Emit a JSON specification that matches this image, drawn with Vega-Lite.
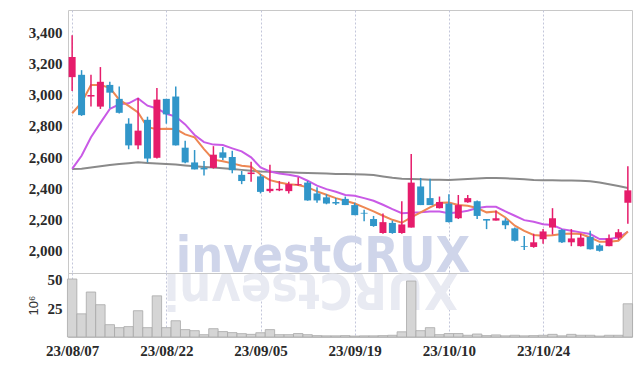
{
  "$schema": "https://vega.github.io/schema/vega-lite/v6.json",
  "padding": {"left": 26, "top": 9, "right": 5, "bottom": 5},
  "spacing": 0,
  "bounds": "flush",
  "config": {
    "view": {"stroke": "#c8c8c8"},
    "font": "Liberation Sans Narrow",
    "axis": {"labelFont": "Liberation Sans Narrow", "labelFontSize": 15, "labelFontWeight": "bold", "labelColor": "#2a2a2a", "gridColor": "#c3c6da", "gridDash": [2, 2], "gridWidth": 1, "ticks": false, "domain": false, "labelPadding": 6}
  },
  "datasets": {
    "k": [
      {"d":"23/08/07","o":3115,"h":3385,"l":3025,"c":3245,"v":50.3,"m5":2882,"m20":2524,"m60":2522},
      {"d":"23/08/08","o":3130,"h":3160,"l":2865,"c":2870,"v":20.1,"m5":2950,"m20":2608,"m60":2525},
      {"d":"23/08/09","o":2990,"h":3130,"l":2925,"c":3000,"v":39,"m5":3064,"m20":2727,"m60":2532},
      {"d":"23/08/10","o":2925,"h":3180,"l":2910,"c":3085,"v":28,"m5":3064,"m20":2820,"m60":2540},
      {"d":"23/08/11","o":3065,"h":3085,"l":2915,"c":3015,"v":10.7,"m5":3046,"m20":2910,"m60":2548},
      {"d":"23/08/14","o":2975,"h":3055,"l":2880,"c":2885,"v":8.1,"m5":2970,"m20":2940,"m60":2555},
      {"d":"23/08/16","o":2815,"h":2850,"l":2650,"c":2675,"v":9,"m5":2930,"m20":2946,"m60":2560},
      {"d":"23/08/17","o":2675,"h":2980,"l":2650,"c":2770,"v":22.8,"m5":2887,"m20":2978,"m60":2566},
      {"d":"23/08/18","o":2840,"h":2860,"l":2565,"c":2590,"v":8.1,"m5":2791,"m20":2931,"m60":2562},
      {"d":"23/08/21","o":2595,"h":3045,"l":2590,"c":2970,"v":35.7,"m5":2781,"m20":2913,"m60":2558},
      {"d":"23/08/22","o":2975,"h":2975,"l":2815,"c":2875,"v":8.1,"m5":2782,"m20":2879,"m60":2555},
      {"d":"23/08/23","o":2990,"h":3055,"l":2675,"c":2675,"v":14.1,"m5":2780,"m20":2861,"m60":2552},
      {"d":"23/08/24","o":2660,"h":2705,"l":2560,"c":2565,"v":6.4,"m5":2746,"m20":2810,"m60":2546},
      {"d":"23/08/25","o":2565,"h":2645,"l":2520,"c":2520,"v":5.5,"m5":2727,"m20":2742,"m60":2540},
      {"d":"23/08/28","o":2530,"h":2575,"l":2480,"c":2520,"v":2,"m5":2651,"m20":2696,"m60":2536},
      {"d":"23/08/29","o":2530,"h":2670,"l":2525,"c":2615,"v":7.2,"m5":2583,"m20":2680,"m60":2533},
      {"d":"23/08/30","o":2630,"h":2665,"l":2580,"c":2595,"v":4.7,"m5":2572,"m20":2677,"m60":2527},
      {"d":"23/08/31","o":2600,"h":2640,"l":2495,"c":2515,"v":3.8,"m5":2559,"m20":2656,"m60":2522},
      {"d":"23/09/01","o":2485,"h":2510,"l":2425,"c":2445,"v":2.9,"m5":2544,"m20":2636,"m60":2517},
      {"d":"23/09/04","o":2490,"h":2570,"l":2440,"c":2500,"v":2.3,"m5":2537,"m20":2598,"m60":2512},
      {"d":"23/09/05","o":2475,"h":2490,"l":2365,"c":2375,"v":3.7,"m5":2487,"m20":2533,"m60":2507},
      {"d":"23/09/06","o":2380,"h":2550,"l":2370,"c":2395,"v":6.4,"m5":2451,"m20":2507,"m60":2505},
      {"d":"23/09/07","o":2385,"h":2445,"l":2380,"c":2395,"v":2,"m5":2436,"m20":2494,"m60":2503},
      {"d":"23/09/08","o":2380,"h":2440,"l":2365,"c":2425,"v":2,"m5":2425,"m20":2486,"m60":2501},
      {"d":"23/09/11","o":2420,"h":2470,"l":2415,"c":2425,"v":3,"m5":2419,"m20":2475,"m60":2499},
      {"d":"23/09/12","o":2435,"h":2445,"l":2318,"c":2320,"v":2,"m5":2404,"m20":2447,"m60":2497},
      {"d":"23/09/13","o":2365,"h":2405,"l":2305,"c":2320,"v":1.2,"m5":2378,"m20":2415,"m60":2495},
      {"d":"23/09/14","o":2340,"h":2360,"l":2295,"c":2300,"v":1,"m5":2357,"m20":2393,"m60":2493},
      {"d":"23/09/15","o":2310,"h":2335,"l":2290,"c":2300,"v":1,"m5":2335,"m20":2376,"m60":2491},
      {"d":"23/09/18","o":2330,"h":2345,"l":2290,"c":2290,"v":1.2,"m5":2318,"m20":2355,"m60":2490},
      {"d":"23/09/19","o":2290,"h":2305,"l":2225,"c":2225,"v":0.8,"m5":2300,"m20":2350,"m60":2489},
      {"d":"23/09/20","o":2240,"h":2260,"l":2185,"c":2235,"v":1,"m5":2275,"m20":2335,"m60":2487},
      {"d":"23/09/21","o":2200,"h":2220,"l":2150,"c":2155,"v":1,"m5":2249,"m20":2318,"m60":2484},
      {"d":"23/09/22","o":2110,"h":2235,"l":2105,"c":2180,"v":1.2,"m5":2221,"m20":2292,"m60":2475},
      {"d":"23/09/25","o":2175,"h":2190,"l":2105,"c":2110,"v":1.5,"m5":2195,"m20":2264,"m60":2466},
      {"d":"23/09/26","o":2110,"h":2315,"l":2105,"c":2165,"v":4.5,"m5":2176,"m20":2238,"m60":2460},
      {"d":"23/09/27","o":2145,"h":2620,"l":2145,"c":2435,"v":48.5,"m5":2210,"m20":2241,"m60":2458},
      {"d":"23/10/04","o":2410,"h":2465,"l":2290,"c":2290,"v":5.5,"m5":2243,"m20":2243,"m60":2456},
      {"d":"23/10/05","o":2335,"h":2460,"l":2290,"c":2290,"v":8.1,"m5":2275,"m20":2249,"m60":2454},
      {"d":"23/10/06","o":2270,"h":2345,"l":2268,"c":2310,"v":2,"m5":2305,"m20":2249,"m60":2453},
      {"d":"23/10/10","o":2300,"h":2360,"l":2178,"c":2180,"v":3,"m5":2307,"m20":2238,"m60":2452},
      {"d":"23/10/11","o":2205,"h":2355,"l":2200,"c":2290,"v":3,"m5":2290,"m20":2243,"m60":2455},
      {"d":"23/10/12","o":2308,"h":2355,"l":2305,"c":2335,"v":1.5,"m5":2286,"m20":2254,"m60":2458},
      {"d":"23/10/13","o":2315,"h":2320,"l":2200,"c":2220,"v":2.6,"m5":2271,"m20":2271,"m60":2461},
      {"d":"23/10/16","o":2200,"h":2200,"l":2135,"c":2190,"v":1.2,"m5":2243,"m20":2279,"m60":2464},
      {"d":"23/10/17","o":2190,"h":2255,"l":2190,"c":2205,"v":1.8,"m5":2249,"m20":2279,"m60":2464},
      {"d":"23/10/18","o":2190,"h":2205,"l":2135,"c":2160,"v":1,"m5":2210,"m20":2249,"m60":2463},
      {"d":"23/10/19","o":2140,"h":2145,"l":2055,"c":2060,"v":1.5,"m5":2157,"m20":2221,"m60":2460},
      {"d":"23/10/20","o":2025,"h":2090,"l":2000,"c":2020,"v":1,"m5":2124,"m20":2193,"m60":2456},
      {"d":"23/10/23","o":2020,"h":2105,"l":2015,"c":2050,"v":1.2,"m5":2097,"m20":2182,"m60":2452},
      {"d":"23/10/24","o":2070,"h":2135,"l":2040,"c":2120,"v":1.5,"m5":2093,"m20":2167,"m60":2450},
      {"d":"23/10/25","o":2145,"h":2270,"l":2100,"c":2205,"v":2.3,"m5":2096,"m20":2161,"m60":2450},
      {"d":"23/10/26","o":2130,"h":2135,"l":2045,"c":2050,"v":1,"m5":2103,"m20":2135,"m60":2449},
      {"d":"23/10/27","o":2050,"h":2135,"l":2025,"c":2075,"v":2.3,"m5":2107,"m20":2124,"m60":2448},
      {"d":"23/10/30","o":2025,"h":2105,"l":2023,"c":2080,"v":1.5,"m5":2103,"m20":2114,"m60":2447},
      {"d":"23/10/31","o":2085,"h":2125,"l":2004,"c":2005,"v":1.5,"m5":2081,"m20":2103,"m60":2443},
      {"d":"23/11/01","o":2030,"h":2040,"l":1990,"c":1995,"v":0.8,"m5":2053,"m20":2071,"m60":2436},
      {"d":"23/11/02","o":2025,"h":2100,"l":2025,"c":2075,"v":1.5,"m5":2053,"m20":2071,"m60":2425},
      {"d":"23/11/03","o":2080,"h":2135,"l":2065,"c":2115,"v":1.5,"m5":2060,"m20":2081,"m60":2413},
      {"d":"23/11/06","o":2305,"h":2540,"l":2170,"c":2385,"v":28.8,"m5":2120,"m20":2118,"m60":2400}
    ]
  },
  "vconcat": [
    {
      "width": 564,
      "height": 263,
      "data": {"name": "k"},
      "encoding": {
        "x": {"field": "d", "type": "ordinal", "sort": null, "scale": {"type": "point", "padding": 0.44}, "axis": {"labels": false, "title": null, "grid": true, "values": ["23/08/07", "23/08/22", "23/09/05", "23/09/19", "23/10/10", "23/10/24"]}}
      },
      "layer": [
        {
          "mark": {"type": "text", "font": "DejaVu Sans Condensed", "fontWeight": "bold", "fontSize": 50, "color": "#cfd5ea", "align": "left", "baseline": "alphabetic", "clip": true},
          "encoding": {
            "y": {"datum": 1860, "type": "quantitative", "scale": {"domain": [1852, 3548], "nice": false, "zero": false}, "title": null, "axis": {"values": [2000, 2200, 2400, 2600, 2800, 3000, 3200, 3400], "format": ",.0f"}},
            "text": {"condition": {"test": "datum.d == '23/08/23'", "value": "investCRUX"}, "value": ""}
          }
        },
        {
          "mark": {"type": "line", "color": "#8a8a8a", "strokeWidth": 2},
          "encoding": {"y": {"field": "m60", "type": "quantitative", "title": null, "axis": {"values": [2000, 2200, 2400, 2600, 2800, 3000, 3200, 3400], "format": ",.0f"}}}
        },
        {
          "mark": {"type": "line", "color": "#c95ae6", "strokeWidth": 2},
          "encoding": {"y": {"field": "m20", "type": "quantitative", "title": null, "axis": {"values": [2000, 2200, 2400, 2600, 2800, 3000, 3200, 3400], "format": ",.0f"}}}
        },
        {
          "mark": {"type": "line", "color": "#ee8753", "strokeWidth": 2},
          "encoding": {"y": {"field": "m5", "type": "quantitative", "title": null, "axis": {"values": [2000, 2200, 2400, 2600, 2800, 3000, 3200, 3400], "format": ",.0f"}}}
        },
        {
          "mark": {"type": "rule", "strokeWidth": 1.5},
          "encoding": {
            "y": {"field": "l", "type": "quantitative", "title": null, "axis": {"values": [2000, 2200, 2400, 2600, 2800, 3000, 3200, 3400], "format": ",.0f"}},
            "y2": {"field": "h"},
            "color": {"condition": {"test": "datum.c >= datum.o", "value": "#e61c6b"}, "value": "#3196c9"}
          }
        },
        {
          "mark": {"type": "bar", "width": 7},
          "encoding": {
            "y": {"field": "o", "type": "quantitative", "title": null, "axis": {"values": [2000, 2200, 2400, 2600, 2800, 3000, 3200, 3400], "format": ",.0f"}},
            "y2": {"field": "c"},
            "color": {"condition": {"test": "datum.c >= datum.o", "value": "#e61c6b"}, "value": "#3196c9"}
          }
        }
      ]
    },
    {
      "width": 564,
      "height": 64,
      "data": {"name": "k"},
      "encoding": {
        "x": {"field": "d", "type": "ordinal", "sort": null, "scale": {"type": "point", "padding": 0.44}, "axis": {"title": null, "grid": true, "values": ["23/08/07", "23/08/22", "23/09/05", "23/09/19", "23/10/10", "23/10/24"], "labelAngle": 0}}
      },
      "layer": [
        {
          "mark": {"type": "text", "font": "DejaVu Sans Condensed", "fontWeight": "bold", "fontSize": 50, "color": "#e8eaf2", "align": "left", "baseline": "alphabetic", "angle": 180, "clip": true},
          "encoding": {
            "y": {"datum": 54.6, "type": "quantitative", "scale": {"domain": [0, 55.5], "nice": false}, "title": "10⁶", "axis": {"values": [25, 50], "titleFont": "Liberation Sans", "titleFontSize": 13, "titleFontWeight": "normal", "titleColor": "#333333", "titleX": -31, "titleY": 32, "titleAngle": -90, "titleAlign": "center", "titleBaseline": "alphabetic"}},
            "text": {"condition": {"test": "datum.d == '23/10/11'", "value": "XURCtsevni"}, "value": ""}
          }
        },
        {
          "mark": {"type": "bar", "width": 9.4, "fill": "#d5d5d5", "stroke": "#a8a8a8", "strokeWidth": 0.8},
          "encoding": {
            "y": {"field": "v", "type": "quantitative", "title": "10⁶", "axis": {"values": [25, 50], "titleFont": "Liberation Sans", "titleFontSize": 13, "titleFontWeight": "normal", "titleColor": "#333333", "titleX": -31, "titleY": 32, "titleAngle": -90, "titleAlign": "center", "titleBaseline": "alphabetic"}}
          }
        }
      ]
    }
  ]
}
